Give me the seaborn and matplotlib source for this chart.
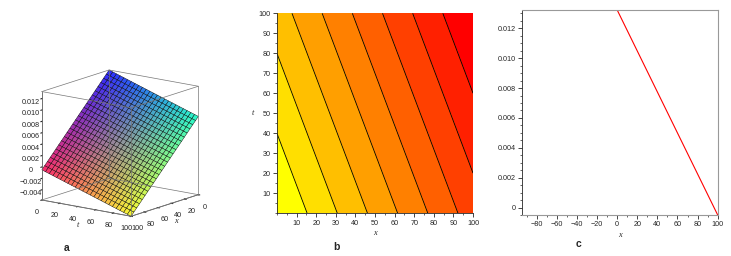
import numpy as np
import matplotlib
matplotlib.use("Agg")
import matplotlib.pyplot as plt
import seaborn as sns
from matplotlib.colors import ListedColormap
from matplotlib.ticker import MultipleLocator, FuncFormatter

# ---------------- data ----------------
x_range = [0, 100]
t_range = [0, 100]
u_x0_t0 = 0.01323      # u at x=0, t=0
u_x100_t0 = -0.00050   # u at x=100, t=0
u_x0_t100 = 0.00794    # u at x=0, t=100
n_grid = 25
n_contours = 8
fill_colors = ['#ff0000', '#ff2000', '#ff4000', '#ff6000', '#ff8000',
               '#ff9f00', '#ffbf00', '#ffdf00', '#ffff00']
line_x = [0, 100]
line_u = [0.01323, -0.00050]
z_ticks = [-0.004, -0.002, 0, 0.002, 0.004, 0.006, 0.008, 0.010, 0.012]
c_yticks = [0, 0.002, 0.004, 0.006, 0.008, 0.010, 0.012]
c_xticks = [-80, -60, -40, -20, 0, 20, 40, 60, 80, 100]
b_ticks = [10, 20, 30, 40, 50, 60, 70, 80, 90, 100]
t3d_ticks = [0, 20, 40, 60, 80, 100]
panel_labels = ['a', 'b', 'c']

sns.set_style("ticks")
plt.rcParams['font.family'] = ['Liberation Sans', 'DejaVu Sans']
plt.rcParams['axes.unicode_minus'] = True

W, H = 731, 256
fig = plt.figure(figsize=(W / 100, H / 100), dpi=100)

xs = np.linspace(x_range[0], x_range[1], n_grid)
ts = np.linspace(t_range[0], t_range[1], n_grid)
X, T = np.meshgrid(xs, ts)
U = (u_x0_t0 + (u_x100_t0 - u_x0_t0) * (X - x_range[0]) / (x_range[1] - x_range[0])
     + (u_x0_t100 - u_x0_t0) * (T - t_range[0]) / (t_range[1] - t_range[0]))

fmt_small = FuncFormatter(lambda v, p: '0' if abs(v) < 1e-12 else f'{v:.3f}'.replace('-', '\u2212'))
tick_fs = 5.2
lab_font = dict(family='Liberation Serif', style='italic', fontsize=6)

# ---------------- panel a (3D) ----------------
ax3 = fig.add_axes([0.015, 0.064, 0.2916, 0.734], projection='3d', proj_type='ortho')
zmin, zmax = U.min(), U.max()
R = (X - x_range[0]) / (x_range[1] - x_range[0])
G = (T - t_range[0]) / (t_range[1] - t_range[0])
B = (U - zmin) / (zmax - zmin)
rgb = np.dstack([R, G, B])
rgb = 0.82 * rgb + 0.18
fc = np.concatenate([rgb, np.ones(R.shape + (1,))], axis=2)
ax3.plot_surface(X, T, U, facecolors=fc, edgecolor='black', linewidth=0.3,
                 shade=False, rstride=1, cstride=1, antialiased=True)
ax3.set_xlim(x_range)
ax3.set_ylim(t_range)
ax3.set_zlim(zmin, zmax)
ax3.set_box_aspect((1, 1, 1))
ax3.view_init(elev=14, azim=37)
ax3.grid(False)
for axis in (ax3.xaxis, ax3.yaxis, ax3.zaxis):
    axis.set_pane_color((1, 1, 1, 0))
    axis.line.set_color('#555555')
    axis.line.set_linewidth(0.6)
ax3.set_xticks(t3d_ticks)
ax3.set_yticks(t3d_ticks)
ax3.set_zticks(z_ticks)
ax3.zaxis.set_major_formatter(fmt_small)
ax3.tick_params(labelsize=tick_fs, pad=-3)
ax3.set_xlabel('x', labelpad=-12, **lab_font)
ax3.set_ylabel('t', labelpad=-12, **lab_font)
ax3.set_zlabel('')
# box edges
xl, yl, zl = ax3.get_xlim(), ax3.get_ylim(), ax3.get_zlim()
for a in xl:
    for b in yl:
        ax3.plot([a, a], [b, b], zl, color='#777777', lw=0.5)
for a in xl:
    for c in zl:
        ax3.plot([a, a], yl, [c, c], color='#777777', lw=0.5)
for b in yl:
    for c in zl:
        ax3.plot(xl, [b, b], [c, c], color='#777777', lw=0.5)

# ---------------- panel b (contour) ----------------
axb = fig.add_axes([277 / W, (H - 213.3) / H, 196 / W, 200 / H])
levels = np.linspace(U.min(), U.max(), n_contours + 2)
cmap = ListedColormap(fill_colors)
axb.contourf(X, T, U, levels=levels, cmap=cmap)
axb.contour(X, T, U, levels=levels[1:-1], colors='black', linewidths=0.6,
            linestyles='solid')
axb.set_xlim(x_range)
axb.set_ylim(t_range)
axb.set_xticks(b_ticks)
axb.set_yticks(b_ticks)
axb.xaxis.set_minor_locator(MultipleLocator(5))
axb.yaxis.set_minor_locator(MultipleLocator(5))
axb.tick_params(which='major', length=3, width=0.6, labelsize=tick_fs, pad=1.5)
axb.tick_params(which='minor', length=1.5, width=0.5)
for s in ('top', 'right'):
    axb.spines[s].set_visible(False)
for s in ('left', 'bottom'):
    axb.spines[s].set_linewidth(0.6)
axb.set_xlabel('x', labelpad=2, **lab_font)
axb.set_ylabel('t', rotation=0, labelpad=4, va='center', **lab_font)

# ---------------- panel c (line) ----------------
axc = fig.add_axes([521.7 / W, (H - 215) / H, 196 / W, 205 / H])
sns.lineplot(x=line_x, y=line_u, color='red', linewidth=0.8, ax=axc)
axc.set_xlim(-95, 100)
axc.set_ylim(min(line_u), max(line_u))
axc.set_xticks(c_xticks)
axc.set_yticks(c_yticks)
axc.xaxis.set_minor_locator(MultipleLocator(10))
axc.yaxis.set_minor_locator(MultipleLocator(0.0005))
axc.yaxis.set_major_formatter(fmt_small)
axc.tick_params(which='major', length=3, width=0.6, labelsize=tick_fs, pad=1.5)
axc.tick_params(which='minor', length=1.5, width=0.5)
for s in ('top', 'right', 'bottom'):
    axc.spines[s].set_color('#999999')
    axc.spines[s].set_linewidth(0.8)
axc.spines['left'].set_linewidth(0.6)
axc.set_xlabel('x', labelpad=2, **lab_font)

# ---------------- panel labels ----------------
for lab, (px, py) in zip(panel_labels, [(66.7, 248.3), (336.7, 246.7), (578.3, 244.3)]):
    fig.text(px / W, 1 - py / H, lab, ha='center', va='center', fontsize=7.5,
             fontweight='bold', family='Liberation Sans')

fig.savefig('out.png', dpi=100)
